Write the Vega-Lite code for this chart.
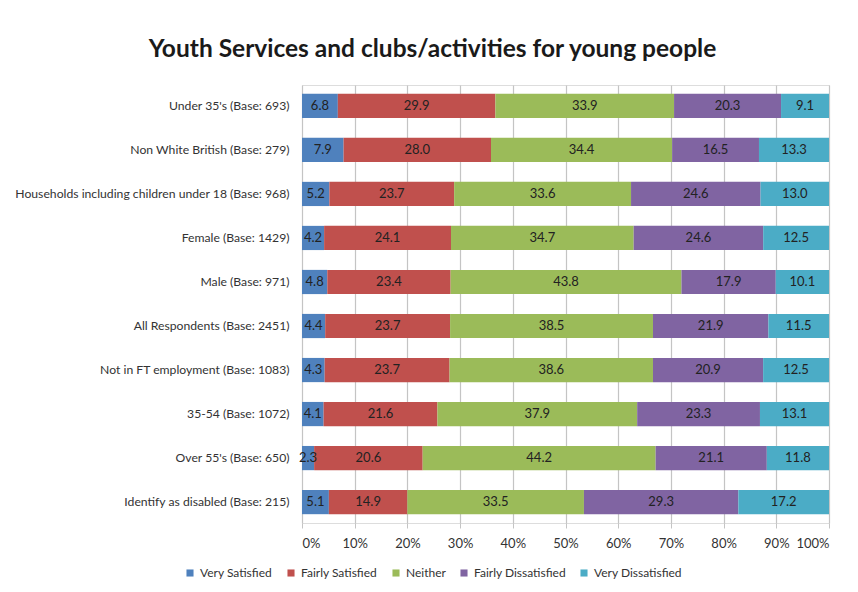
{
  "$schema": "https://vega.github.io/schema/vega-lite/v6.json",
  "width": 527,
  "height": 438,
  "autosize": {"type": "none"},
  "padding": {"left": 302, "top": 85, "right": 29, "bottom": 69},
  "background": "white",
  "title": {
    "text": "Youth Services and clubs/activities for young people",
    "font": "Lato",
    "fontSize": 24.5,
    "fontWeight": "bold",
    "color": "#1a1a1a",
    "anchor": "middle",
    "dx": -133,
    "offset": 25,
    "dy": 21,
    "baseline": "alphabetic"
  },
  "data": {
    "values": [
      {"g": "Under 35's (Base: 693)", "Very Satisfied": 6.8, "Fairly Satisfied": 29.9, "Neither": 33.9, "Fairly Dissatisfied": 20.3, "Very Dissatisfied": 9.1},
      {"g": "Non White British (Base: 279)", "Very Satisfied": 7.9, "Fairly Satisfied": 28.0, "Neither": 34.4, "Fairly Dissatisfied": 16.5, "Very Dissatisfied": 13.3},
      {"g": "Households including children under 18 (Base: 968)", "Very Satisfied": 5.2, "Fairly Satisfied": 23.7, "Neither": 33.6, "Fairly Dissatisfied": 24.6, "Very Dissatisfied": 13.0},
      {"g": "Female (Base: 1429)", "Very Satisfied": 4.2, "Fairly Satisfied": 24.1, "Neither": 34.7, "Fairly Dissatisfied": 24.6, "Very Dissatisfied": 12.5},
      {"g": "Male (Base: 971)", "Very Satisfied": 4.8, "Fairly Satisfied": 23.4, "Neither": 43.8, "Fairly Dissatisfied": 17.9, "Very Dissatisfied": 10.1},
      {"g": "All Respondents (Base: 2451)", "Very Satisfied": 4.4, "Fairly Satisfied": 23.7, "Neither": 38.5, "Fairly Dissatisfied": 21.9, "Very Dissatisfied": 11.5},
      {"g": "Not in FT employment (Base: 1083)", "Very Satisfied": 4.3, "Fairly Satisfied": 23.7, "Neither": 38.6, "Fairly Dissatisfied": 20.9, "Very Dissatisfied": 12.5},
      {"g": "35-54 (Base: 1072)", "Very Satisfied": 4.1, "Fairly Satisfied": 21.6, "Neither": 37.9, "Fairly Dissatisfied": 23.3, "Very Dissatisfied": 13.1},
      {"g": "Over 55's (Base: 650)", "Very Satisfied": 2.3, "Fairly Satisfied": 20.6, "Neither": 44.2, "Fairly Dissatisfied": 21.1, "Very Dissatisfied": 11.8},
      {"g": "Identify as disabled (Base: 215)", "Very Satisfied": 5.1, "Fairly Satisfied": 14.9, "Neither": 33.5, "Fairly Dissatisfied": 29.3, "Very Dissatisfied": 17.2}
    ]
  },
  "transform": [
    {"fold": ["Very Satisfied", "Fairly Satisfied", "Neither", "Fairly Dissatisfied", "Very Dissatisfied"], "as": ["r", "v"]},
    {"calculate": "indexof(['Very Satisfied', 'Fairly Satisfied', 'Neither', 'Fairly Dissatisfied', 'Very Dissatisfied'], datum.r)", "as": "k"},
    {"stack": "v", "groupby": ["g"], "sort": [{"field": "k", "order": "ascending"}], "offset": "normalize", "as": ["x0", "x1"]},
    {"calculate": "(datum.x0 + datum.x1) / 2", "as": "xm"}
  ],
  "encoding": {
    "y": {
      "field": "g",
      "type": "nominal",
      "sort": [
        "Under 35's (Base: 693)",
        "Non White British (Base: 279)",
        "Households including children under 18 (Base: 968)",
        "Female (Base: 1429)",
        "Male (Base: 971)",
        "All Respondents (Base: 2451)",
        "Not in FT employment (Base: 1083)",
        "35-54 (Base: 1072)",
        "Over 55's (Base: 650)",
        "Identify as disabled (Base: 215)"
      ],
      "scale": {"paddingInner": 0.45, "paddingOuter": 0.2},
      "axis": {
        "title": null,
        "ticks": false,
        "domain": false,
        "labelPadding": 13,
        "labelLimit": 400,
        "labelFont": "Lato",
        "labelFontSize": 12.2,
        "labelColor": "#333333"
      }
    }
  },
  "layer": [
    {
      "mark": {"type": "bar"},
      "encoding": {
        "x": {
          "field": "x0",
          "type": "quantitative",
          "scale": {"domain": [0, 1], "nice": false},
          "axis": {
            "title": null,
            "format": ".0%",
            "values": [0, 0.1, 0.2, 0.3, 0.4, 0.5, 0.6, 0.7, 0.8, 0.9, 1],
            "labelOverlap": false,
            "grid": true,
            "gridColor": "#c4c4c4",
            "gridWidth": 1.2,
            "domain": false,
            "ticks": true,
            "tickSize": 5,
            "tickColor": "#c4c4c4",
            "labelPadding": 9,
            "labelFont": "Lato",
            "labelFontSize": 13,
            "labelColor": "#333333"
          }
        },
        "x2": {"field": "x1"},
        "color": {
          "field": "r",
          "type": "nominal",
          "scale": {
            "domain": ["Very Satisfied", "Fairly Satisfied", "Neither", "Fairly Dissatisfied", "Very Dissatisfied"],
            "range": ["#4F81BD", "#C0504D", "#9BBB59", "#8064A2", "#4BACC6"]
          },
          "legend": {
            "title": null,
            "orient": "none",
            "direction": "horizontal",
            "legendX": -118,
            "legendY": 482,
            "symbolType": "square",
            "symbolSize": 50,
            "symbolStrokeWidth": 0,
            "labelFont": "Lato",
            "labelFontSize": 12,
            "labelColor": "#333333",
            "labelOffset": 4,
            "columnPadding": 12
          }
        }
      }
    },
    {
      "mark": {"type": "text", "font": "Lato", "fontSize": 13, "color": "#222222", "align": "center", "baseline": "middle"},
      "encoding": {
        "x": {"field": "xm", "type": "quantitative"},
        "text": {"field": "v", "type": "quantitative", "format": ".1f"}
      }
    }
  ]
}
